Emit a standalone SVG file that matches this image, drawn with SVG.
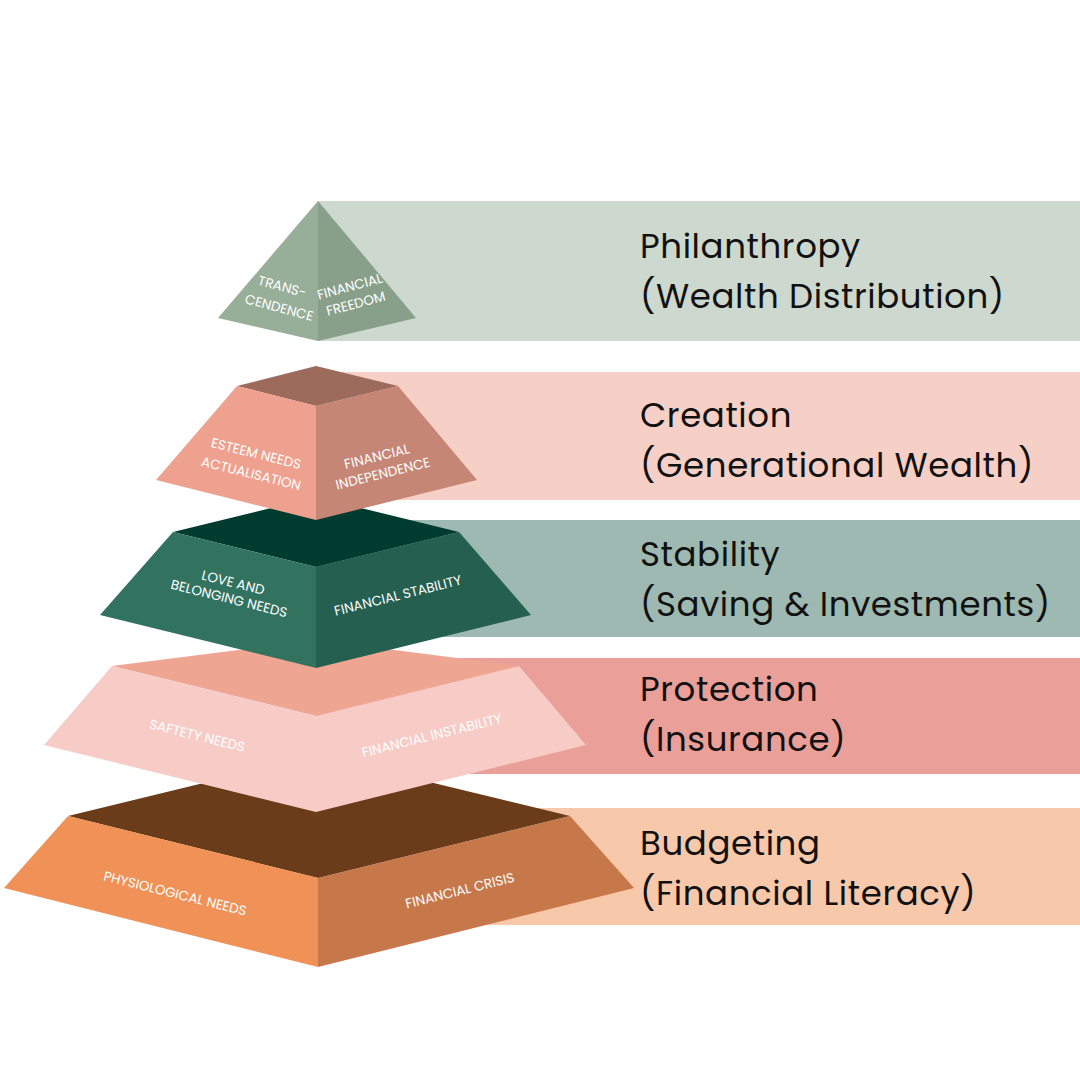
<svg xmlns="http://www.w3.org/2000/svg" width="1080" height="1080" viewBox="0 0 1080 1080">
<style>
.lbl{font-family:Poppins,"Open Sans","Liberation Sans",sans-serif;font-size:34px;letter-spacing:0.6px;fill:#111}
.s{font-family:Poppins,"Open Sans","Liberation Sans",sans-serif;font-size:13.5px;fill:#fff;text-anchor:middle}
</style>
<rect width="1080" height="1080" fill="#fff"/>
<g id="bands">
<rect x="318" y="201" width="762" height="140" fill="#cdd8ce"/>
<rect x="316" y="372" width="764" height="128" fill="#f6d0c7"/>
<rect x="316" y="520" width="764" height="117" fill="#9db9b1"/>
<rect x="316" y="658" width="764" height="116" fill="#eb9f99"/>
<rect x="318" y="808" width="762" height="117" fill="#f8c8ab"/>
</g>
<g id="tier5">
<polygon points="318,755 570,816 318,878 68,816" fill="#6a3c1a"/>
<polygon points="68,816 318,878 318,967 4,888" fill="#f09257"/>
<polygon points="570,816 318,878 318,967 634,888" fill="#c6784a"/>
<text class="s" transform="translate(174,898) rotate(14)">PHYSIOLOGICAL NEEDS</text>
<text class="s" transform="translate(461,895) rotate(-14)">FINANCIAL CRISIS</text>
</g>
<g id="tier4">
<polygon points="316,640 519,666 316,716 112,666" fill="#eea693"/>
<polygon points="112,666 316,716 519,666 586,745 316,812 44,745" fill="#f7ccc7"/>
<text class="s" transform="translate(196,740) rotate(14)">SAFTETY NEEDS</text>
<text class="s" transform="translate(433,740) rotate(-14)">FINANCIAL INSTABILITY</text>
</g>
<g id="tier3">
<polygon points="316,497 459,532 316,567 173,532" fill="#003b30"/>
<polygon points="173,532 316,567 316,668 100,615" fill="#327360"/>
<polygon points="459,532 316,567 316,668 531,615" fill="#245f50"/>
<text class="s" transform="translate(232,587) rotate(14)">LOVE AND</text>
<text class="s" transform="translate(228,603) rotate(14)">BELONGING NEEDS</text>
<text class="s" transform="translate(399,600) rotate(-14)">FINANCIAL STABILITY</text>
</g>
<g id="tier2">
<polygon points="316,366 398,386 316,406 237,386" fill="#9d6b5b"/>
<polygon points="237,386 316,406 316,520 156,480" fill="#eea18e"/>
<polygon points="398,386 316,406 316,520 477,480" fill="#c58676"/>
<text class="s" transform="translate(255,458) rotate(14)">ESTEEM NEEDS</text>
<text class="s" transform="translate(250,478) rotate(14)">ACTUALISATION</text>
<text class="s" transform="translate(378,461) rotate(-14)">FINANCIAL</text>
<text class="s" transform="translate(384,478) rotate(-14)">INDEPENDENCE</text>
</g>
<g id="tier1">
<polygon points="318,201 318,341 218,318" fill="#97ae98"/>
<polygon points="318,201 318,341 416,318" fill="#88a08a"/>
<text class="s" transform="translate(281,291) rotate(15)">TRANS-</text>
<text class="s" transform="translate(278,312) rotate(15)">CENDENCE</text>
<text class="s" transform="translate(351,291) rotate(-15)">FINANCIAL</text>
<text class="s" transform="translate(357,308) rotate(-15)">FREEDOM</text>
</g>
<g id="labels">
<text class="lbl" x="640" y="258">Philanthropy</text>
<text class="lbl" x="640" y="308">(Wealth Distribution)</text>
<text class="lbl" x="640" y="427">Creation</text>
<text class="lbl" x="640" y="477">(Generational Wealth)</text>
<text class="lbl" x="640" y="566">Stability</text>
<text class="lbl" x="640" y="616">(Saving &amp; Investments)</text>
<text class="lbl" x="640" y="701">Protection</text>
<text class="lbl" x="640" y="751">(Insurance)</text>
<text class="lbl" x="640" y="855">Budgeting</text>
<text class="lbl" x="640" y="905">(Financial Literacy)</text>
</g>
</svg>
